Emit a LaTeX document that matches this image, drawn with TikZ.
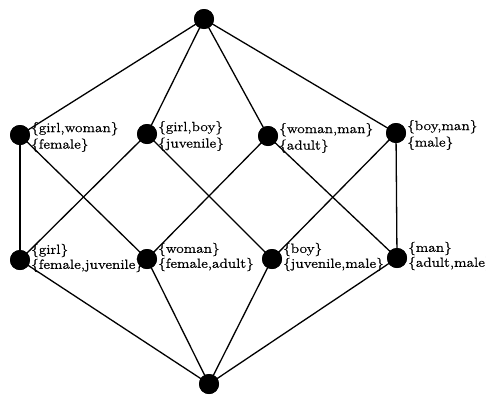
\documentclass[tikz,border=0pt]{standalone}
\usepackage{fontspec}
\setmainfont{Latin Modern Roman}[FakeStretch=1.15,FakeBold=0.6]
\begin{document}
\begin{tikzpicture}[x=1pt,y=-1pt,
  dot/.style={circle,fill=black,draw=none,minimum size=20pt,inner sep=0pt},
  edge/.style={line width=1.3pt},
  lblup/.style={anchor=west,align=left,inner sep=0pt,
    font=\fontsize{13.3}{16.5}\selectfont,xshift=11pt,yshift=-2pt},
  lbllow/.style={anchor=west,align=left,inner sep=0pt,
    font=\fontsize{13.3}{15}\selectfont,xshift=11pt,yshift=2pt}]
\useasboundingbox (0,0) rectangle (486,394);
% lattice elements
\node[dot] (top) at (204,19) {};
\node[dot] (gw) at (20,135) {};
\node[dot] (gb) at (147,134) {};
\node[dot] (wm) at (268,136) {};
\node[dot] (bm) at (396,133) {};
\node[dot] (g) at (20,260) {};
\node[dot] (w) at (147,259) {};
\node[dot] (b) at (272,259) {};
\node[dot] (m) at (397,258) {};
\node[dot] (bot) at (209,384) {};
% order relations
\foreach \u in {gw,gb,wm,bm} \draw[edge] (top.center) -- (\u.center);
\foreach \u/\v in {gw/g,gw/w,gb/g,gb/b,wm/w,wm/m,bm/b,bm/m}
  \draw[edge] (\u.center) -- (\v.center);
\foreach \v in {g,w,b,m} \draw[edge] (\v.center) -- (bot.center);
% redraw dots over the lines
\foreach \n in {top,gw,gb,wm,bm,g,w,b,m,bot}
  \fill (\n.center) circle (10pt);
% extents and intents
\node[lblup] (lgw) at (gw.center) {\{girl,woman\}\\\{female\}};
\node[lblup] (lgb) at (gb.center) {\{girl,boy\}\\\{juvenile\}};
\node[lblup] (lwm) at (wm.center) {\{woman,man\}\\\{adult\}};
\node[lblup] (lbm) at (bm.center) {\{boy,man\}\\\{male\}};
\node[lbllow] (lg) at (g.center) {\{girl\}\\\{female,juvenile\}};
\node[lbllow] (lw) at (w.center) {\{woman\}\\\{female,adult\}};
\node[lbllow] (lb) at (b.center) {\{boy\}\\\{juvenile,male\}};
\node[lbllow] (lm) at (m.center) {\{man\}\\\{adult,male\}};
\end{tikzpicture}
\end{document}
